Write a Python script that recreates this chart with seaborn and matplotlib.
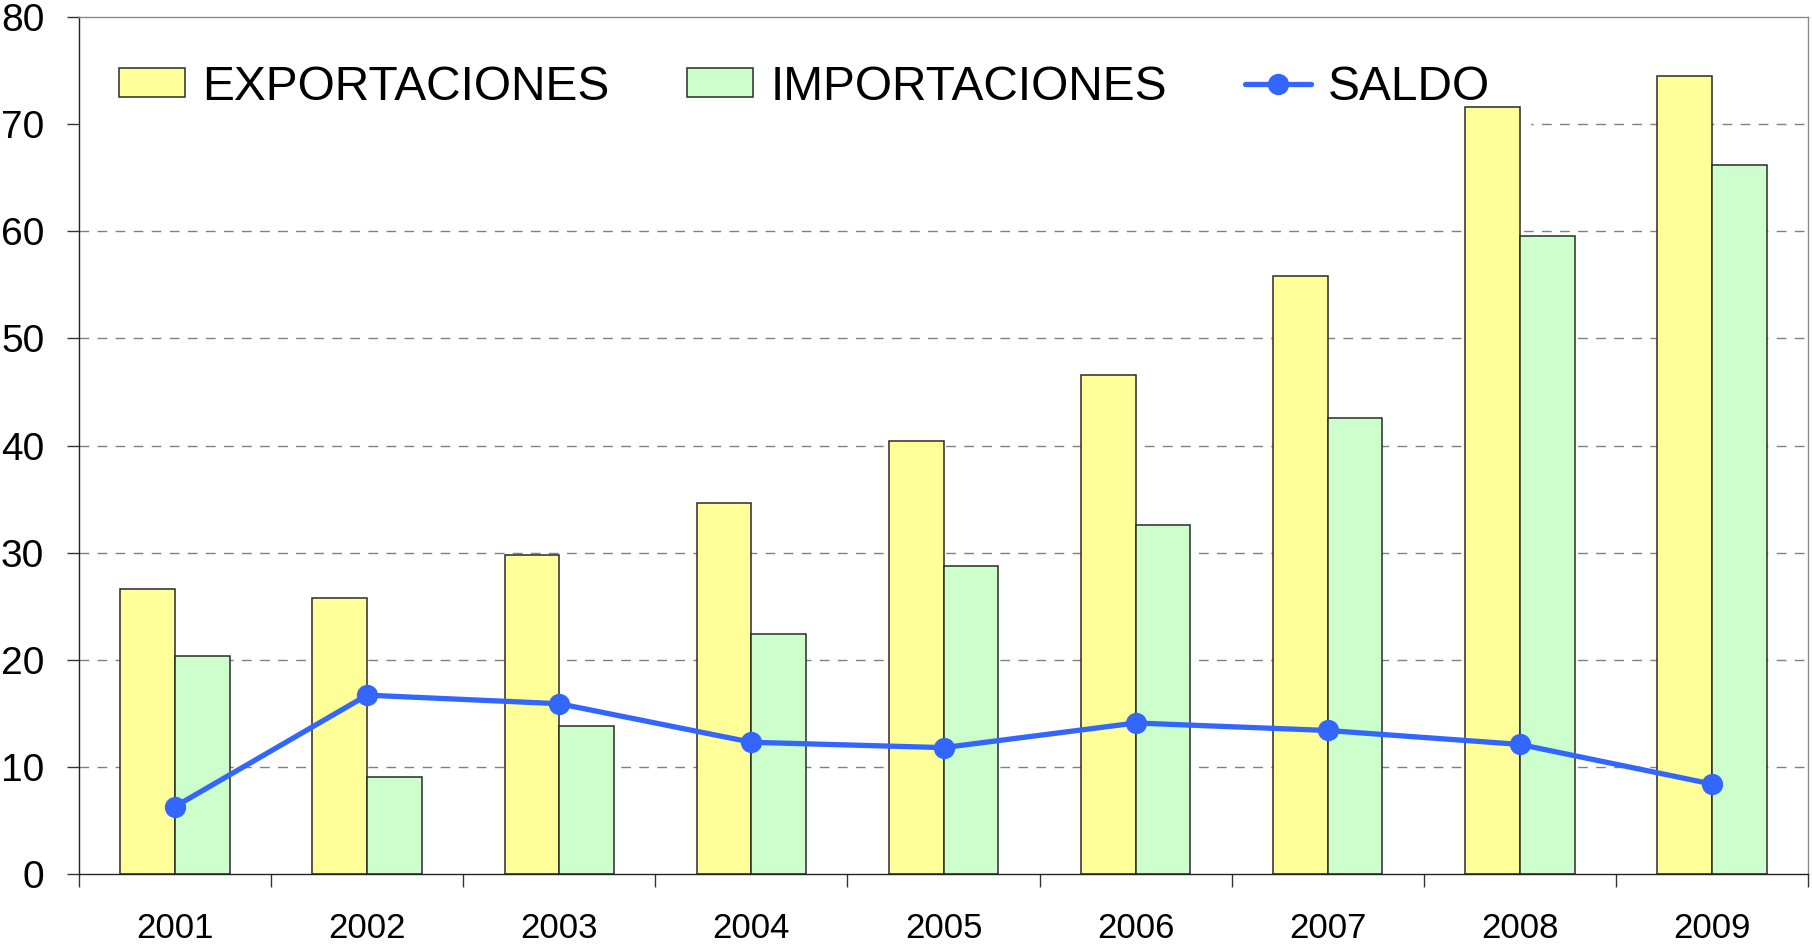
import pandas as pd
import matplotlib.pyplot as plt
import seaborn as sns

# values
years = ["2001", "2002", "2003", "2004", "2005", "2006", "2007", "2008", "2009"]
exportaciones = [26.6, 25.8, 29.8, 34.6, 40.4, 46.6, 55.8, 71.6, 74.5]
importaciones = [20.4, 9.1, 13.8, 22.4, 28.8, 32.6, 42.6, 59.6, 66.2]
saldo = [6.3, 16.7, 15.9, 12.3, 11.8, 14.1, 13.4, 12.1, 8.4]

sns.set_style("white")
plt.rcParams['font.family'] = ['Liberation Sans', 'DejaVu Sans']
plt.rcParams['text.color'] = 'black'
plt.rcParams['xtick.color'] = 'black'
plt.rcParams['ytick.color'] = 'black'

df = pd.DataFrame({
    "year": years * 2,
    "value": exportaciones + importaciones,
    "serie": ["EXPORTACIONES"] * len(years) + ["IMPORTACIONES"] * len(years),
})

fig = plt.figure(figsize=(18.12, 9.49), dpi=100)
ax = fig.add_axes([0.0436, 0.079, 0.9542, 0.903])

sns.barplot(data=df, x="year", y="value", hue="serie", order=years,
            palette={"EXPORTACIONES": "#FFFF99", "IMPORTACIONES": "#CCFFCC"},
            saturation=1, width=0.57, edgecolor="#2a2a2a", linewidth=1.1,
            zorder=2, ax=ax)
sns.pointplot(x=years, y=saldo, order=years, color="#3366FF", markers="o",
              linestyles="-", markersize=12.5, linewidth=3.8, label="SALDO",
              zorder=3, ax=ax)

ax.set_xlim(-0.5, len(years) - 0.5)
ax.set_ylim(0, 80)
ax.set_xlabel("")
ax.set_ylabel("")

# dashed grid lines 10..70
ax.set_yticks(range(0, 90, 10))
ax.grid(False)
for v in range(10, 80, 10):
    ax.axhline(v, color="#808080", lw=1, ls=(0, (7, 6)), zorder=0.5)

# x ticks: marks between groups, labels at group centres
ax.set_xticks([i - 0.5 for i in range(len(years) + 1)])
ax.set_xticklabels([])
ax.set_xticks(range(len(years)), minor=True)
ax.set_xticklabels(years, minor=True)
ax.tick_params(axis="x", which="major", length=9, width=1, color="#333333",
               direction="out", bottom=True)
ax.tick_params(axis="x", which="minor", length=0, pad=27, labelsize=25,
               labelcolor="black")
ax.tick_params(axis="y", length=9, width=1, color="#333333", direction="out",
               left=True, pad=16, labelsize=28, labelcolor="black")

for s in ["left", "bottom"]:
    ax.spines[s].set_color("#222222")
    ax.spines[s].set_linewidth(1)
for s in ["top", "right"]:
    ax.spines[s].set_color("#8a8a8a")
    ax.spines[s].set_linewidth(1)

handles, labels = ax.get_legend_handles_labels()
leg = ax.legend(handles, labels, ncol=3, loc="center left",
                bbox_to_anchor=(0.0, 0.918), fontsize=34.5, frameon=True,
                handlelength=1.38, handleheight=0.55, handletextpad=0.36,
                columnspacing=1.62, borderpad=0.83, borderaxespad=0,
                labelcolor="black")
leg.get_frame().set_facecolor("white")
leg.get_frame().set_edgecolor("white")
leg.get_frame().set_alpha(1)
leg.set_zorder(1)

plt.savefig("out.png", dpi=100)
plt.close()
